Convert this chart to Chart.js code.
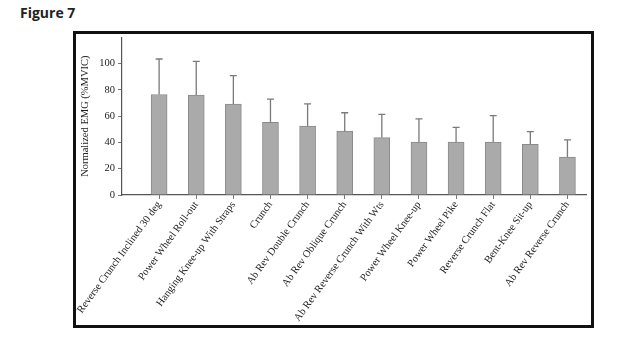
<!DOCTYPE html>
<html>
<head>
<meta charset="utf-8">
<script src="https://cdn.jsdelivr.net/npm/chart.js@4"></script>
<style>
  body { margin: 0; background: #fff; width: 644px; height: 339px; position: relative; overflow: hidden; }
  #fig { position: absolute; left: 20px; top: 3px; font: bold 14px "Open Sans", sans-serif; color: #222; }
  #frame { position: absolute; left: 73px; top: 31px; width: 521px; height: 297px; box-sizing: border-box; border: 3px solid #111; }
  #wrap { position: absolute; left: 76px; top: 28px; width: 514px; height: 296px; }
</style>
</head>
<body>
<div id="fig">Figure 7</div>
<div id="frame"></div>
<div id="wrap"><canvas id="myChart"></canvas></div>
<script>
const exercises = [
  'Reverse Crunch Inclined 30 deg',
  'Power Wheel Roll-out',
  'Hanging Knee-up With Straps',
  'Crunch',
  'Ab Rev Double Crunch',
  'Ab Rev Oblique Crunch',
  'Ab Rev Reverse Crunch With Wts',
  'Power Wheel Knee-up',
  'Power Wheel Pike',
  'Reverse Crunch Flat',
  'Bent-Knee Sit-up',
  'Ab Rev Reverse Crunch',
];
const meanEmg = [76.5, 76, 69.2, 55.3, 52.5, 48.6, 43.7, 40.2, 40.2, 40.2, 38.6, 28.8];
const sdEmg = [27, 25.7, 21.7, 17.7, 16.9, 14, 17.7, 17.8, 11.3, 20.2, 9.6, 13.2];
const yTicks = [0, 20, 40, 60, 80, 100];

const serif = { family: '"Liberation Serif", "DejaVu Serif", serif', size: 10.5 };

// upward-only SD whiskers with a small cap
const errorBars = {
  id: 'errorBars',
  afterDatasetsDraw(chart) {
    const { ctx, scales: { y } } = chart;
    const meta = chart.getDatasetMeta(0);
    ctx.save();
    ctx.strokeStyle = '#7a7a7a';
    ctx.lineWidth = 1.3;
    meta.data.forEach((bar, i) => {
      const top = y.getPixelForValue(meanEmg[i] + sdEmg[i]);
      ctx.beginPath();
      ctx.moveTo(bar.x, bar.y);
      ctx.lineTo(bar.x, top);
      ctx.moveTo(bar.x - 3.5, top);
      ctx.lineTo(bar.x + 3.5, top);
      ctx.stroke();
    });
    ctx.restore();
  },
};

new Chart(document.getElementById('myChart'), {
  type: 'bar',
  data: {
    datasets: [{
      data: meanEmg.map((v, i) => ({ x: i, y: v })),
      backgroundColor: '#aaaaaa',
      borderColor: '#8a8a8a',
      borderWidth: 1,
      barThickness: 16,
    }],
  },
  options: {
    responsive: true,
    maintainAspectRatio: false,
    animation: false,
    layout: { padding: { top: 3, right: 4 } },
    plugins: { legend: { display: false }, tooltip: { enabled: false } },
    scales: {
      x: {
        type: 'linear',
        offset: false,
        min: -1,
        max: 11.5,
        afterBuildTicks: (axis) => {
          axis.ticks = exercises.map((_, i) => ({ value: i }));
        },
        afterFit: (scale) => { scale.height = 129; },
        grid: { drawOnChartArea: false, tickLength: 4, color: '#777', offset: false },
        border: { color: '#555', width: 1.2 },
        ticks: {
          autoSkip: false,
          minRotation: 54,
          maxRotation: 54,
          padding: 0,
          color: '#222',
          font: serif,
          callback: (v) => exercises[v] ?? '',
        },
      },
      y: {
        min: 0,
        max: 120,
        afterBuildTicks: (axis) => {
          axis.ticks = [];
          for (let v = 0; v <= 110; v += 10) axis.ticks.push({ value: v });
        },
        afterFit: (scale) => { scale.width = 45; },
        grid: {
          drawOnChartArea: false,
          tickLength: 4,
          color: '#777',
          tickWidth: (c) => (yTicks.includes(c.tick.value) ? 1 : 0.6),
        },
        border: { color: '#555', width: 1.2 },
        ticks: {
          padding: 3,
          color: '#222',
          font: serif,
          callback: (v) => (yTicks.includes(v) ? v : ''),
        },
        title: {
          display: true,
          text: 'Normalized EMG (%MVIC)',
          color: '#222',
          font: serif,
          padding: { top: 2, bottom: 0 },
        },
      },
    },
  },
  plugins: [errorBars],
});
</script>
</body>
</html>
